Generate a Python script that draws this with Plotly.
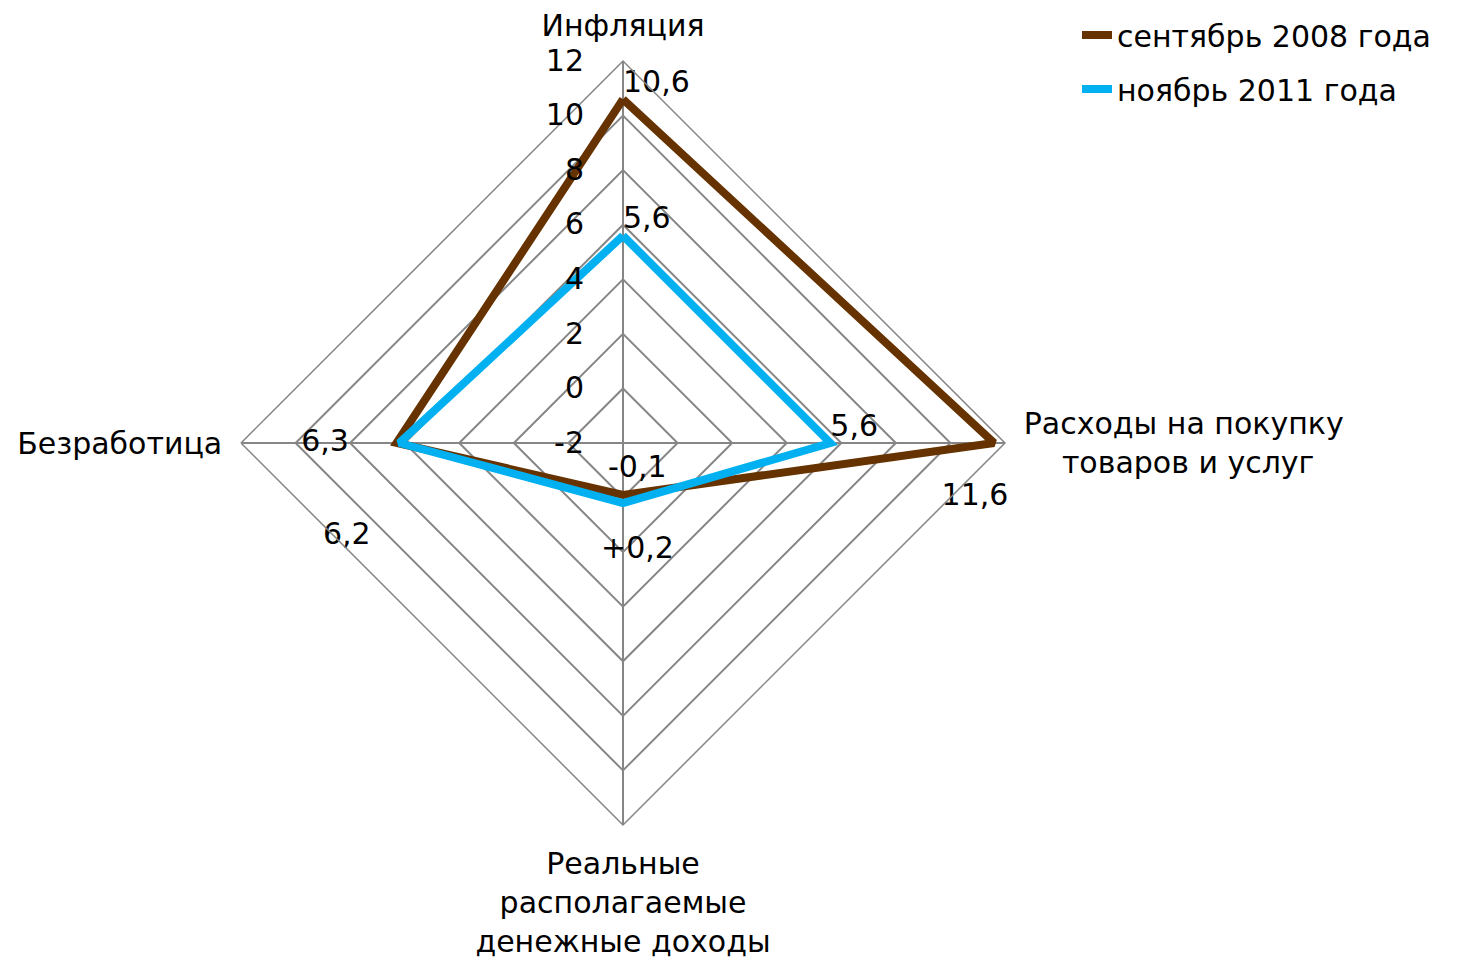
import plotly.graph_objects as go

NB = "\u00a0"
categories = ["Инфляция", "Расходы на покупку<br>" + NB * 4 + "товаров и услуг",
              "Реальные<br>располагаемые<br>денежные доходы", "Безработица"]
series_names = ["сентябрь 2008 года", "ноябрь 2011 года"]
values_2008 = [10.6, 11.6, -0.1, 6.3]
values_2011 = [5.6, 5.6, 0.2, 6.2]
labels_2008 = ["10,6", NB + "<br>11,6" + NB * 4, "-0,1", "6,3" + NB * 5]
labels_2011 = ["5,6", "5,6", "+0,2", NB + "<br>" + NB + "<br>6,2" + NB * 3]
pos_2008 = ["top right", "bottom center", "top center", "middle left"]
pos_2011 = ["top right", "top right", "bottom center", "bottom left"]
radial_ticks = [-2, 0, 2, 4, 6, 8, 10, 12]
RMIN, RMAX = -2, 12
INNER = 2  # index of the category whose labels sit near the centre

FONT = "DejaVu Sans"
FS = 30
BROWN = "#663300"
BLUE = "#00B0F0"
GRID = "#868686"

def closed(v):
    return list(v) + [v[0]]

fig = go.Figure()
for name, vals, labs, pos, col, grp in [
        (series_names[0], values_2008, labels_2008, pos_2008, BROWN, "a"),
        (series_names[1], values_2011, labels_2011, pos_2011, BLUE, "b")]:
    outer_text = [("" if i == INNER else t) for i, t in enumerate(labs)] + [""]
    fig.add_trace(go.Scatterpolar(
        r=closed(vals), theta=closed(categories), name=name, legendgroup=grp,
        mode="lines+text", text=outer_text, textposition=closed(pos),
        textfont=dict(family=FONT, size=FS, color="black"),
        line=dict(color=col, width=8), cliponaxis=False))

W, H = 1460, 958
cx, cy, R = 623, 443, 382          # polar centre / radius in pixels
dx, dy = -8, -8                    # plotly's offset of the polar box

# Plotly hides polar text near the centre when the radial range starts
# below zero, so the two inner labels are placed as annotations at the
# position of their data point (bottom spoke: straight below the centre).
for vals, labs, yshift in [(values_2008, labels_2008, 36),
                           (values_2011, labels_2011, -36)]:
    rad_px = (vals[INNER] - RMIN) / (RMAX - RMIN) * R
    fig.add_annotation(
        x=cx / W, y=1 - (cy + rad_px) / H, xref="paper", yref="paper",
        text=labs[INNER], showarrow=False, xanchor="center", yanchor="middle",
        xshift=6, yshift=yshift,
        font=dict(family=FONT, size=FS, color="black"))

fig.update_layout(
    width=W, height=H,
    margin=dict(l=0, r=0, t=0, b=0),
    paper_bgcolor="white", plot_bgcolor="white",
    font=dict(family=FONT, size=FS, color="black"),
    showlegend=True,
    legend=dict(x=1069 / W, y=1 - 1 / H, xanchor="left", yanchor="top",
                font=dict(family=FONT, size=FS), itemwidth=30,
                bgcolor="rgba(0,0,0,0)", tracegroupgap=12),
    polar=dict(
        domain=dict(x=[(cx + dx - R) / W, (cx + dx + R) / W],
                    y=[(H - cy - dy - R) / H, (H - cy - dy + R) / H]),
        gridshape="linear",
        bgcolor="white",
        radialaxis=dict(range=[RMIN, RMAX], tickvals=radial_ticks,
                        ticktext=[str(t) for t in radial_ticks],
                        angle=90, tickangle=90, side="counterclockwise",
                        showline=False, gridcolor=GRID, gridwidth=1.5,
                        ticks="outside", ticklen=28, tickcolor="rgba(0,0,0,0)",
                        tickfont=dict(family=FONT, size=FS, color="black")),
        angularaxis=dict(direction="clockwise", rotation=90,
                         showline=True, linecolor=GRID, linewidth=1.5,
                         gridcolor=GRID, gridwidth=1.5,
                         ticks="outside", ticklen=12, tickcolor="rgba(0,0,0,0)",
                         tickfont=dict(family=FONT, size=FS, color="black")),
    ),
)

fig.write_html("out.html")
